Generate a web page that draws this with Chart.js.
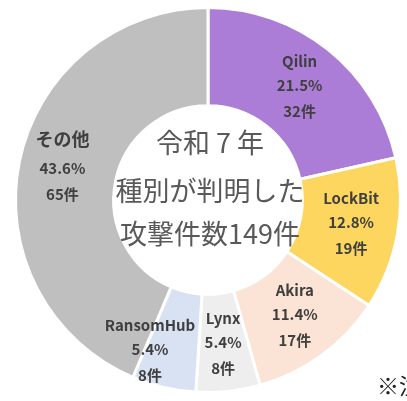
<!DOCTYPE html>
<html>
<head>
<meta charset="utf-8">
<script src="https://cdn.jsdelivr.net/npm/chart.js@4"></script>
<style>
  html, body { margin: 0; padding: 0; background: #fff; }
  canvas { display: block; }
</style>
</head>
<body>
<canvas id="chart" width="407" height="401"></canvas>
<script>
const groups = ['Qilin', 'LockBit', 'Akira', 'Lynx', 'RansomHub', 'その他'];
const counts = [32, 19, 17, 8, 8, 65];
const shares = ['21.5%', '12.8%', '11.4%', '5.4%', '5.4%', '43.6%'];
const colors = ['#ac7dd6', '#fdd660', '#fbe4d5', '#eeeeee', '#d9e2f2', '#bfbfbf'];
const centerLines = ['令和 7 年', '種別が判明した', '攻撃件数149件'];

// small nudges so labels sit where the original put them
const nudges = [[2, -3], [2, -3], [2, -1], [0, 0], [-25, 10], [-5, -3]];

const labelFont = 'bold 15px "Noto Sans CJK JP", "Noto Sans", sans-serif';
const kanaFont = 'bold 18px "Noto Sans CJK JP", sans-serif';
const centerFont = '27px "Noto Sans CJK JP", sans-serif';

const sliceLabels = {
  id: 'sliceLabels',
  afterDatasetsDraw(chart) {
    const ctx = chart.ctx;
    const meta = chart.getDatasetMeta(0);
    ctx.save();
    ctx.fillStyle = '#3f3f3f';
    ctx.textAlign = 'center';
    ctx.textBaseline = 'middle';
    meta.data.forEach((arc, i) => {
      const p = arc.getCenterPoint();
      const x = p.x + nudges[i][0];
      const y = p.y + nudges[i][1];
      const jp = i === 5;
      ctx.font = jp ? kanaFont : labelFont;
      ctx.fillText(groups[i], x, y - (jp ? 29 : 24));
      ctx.font = labelFont;
      ctx.fillText(shares[i], x, y);
      ctx.fillText(counts[i] + '件', x, y + 26);
    });

    // centre text
    const cx = (chart.chartArea.left + chart.chartArea.right) / 2;
    const cy = (chart.chartArea.top + chart.chartArea.bottom) / 2;
    ctx.font = centerFont;
    ctx.fillStyle = '#595959';
    ctx.fillText(centerLines[0], cx + 2, cy - 57);
    ctx.fillText(centerLines[1], cx + 2, cy - 9);
    ctx.fillText(centerLines[2], cx + 2, cy + 34);

    // note cut off at the right edge
    ctx.textAlign = 'left';
    ctx.font = '22px "Noto Sans CJK JP", sans-serif';
    ctx.fillStyle = '#222';
    ctx.fillText('※注', 377, 386);
    ctx.restore();
  }
};

new Chart(document.getElementById('chart'), {
  type: 'doughnut',
  data: {
    labels: groups,
    datasets: [{
      data: counts,
      backgroundColor: colors,
      borderColor: '#ffffff',
      borderWidth: 3,
      hoverOffset: 0
    }]
  },
  options: {
    responsive: false,
    animation: false,
    cutout: '49%',
    layout: { padding: { top: 6, bottom: 7, left: 9, right: 0 } },
    plugins: {
      legend: { display: false },
      tooltip: { enabled: false }
    }
  },
  plugins: [sliceLabels]
});
</script>
</body>
</html>
